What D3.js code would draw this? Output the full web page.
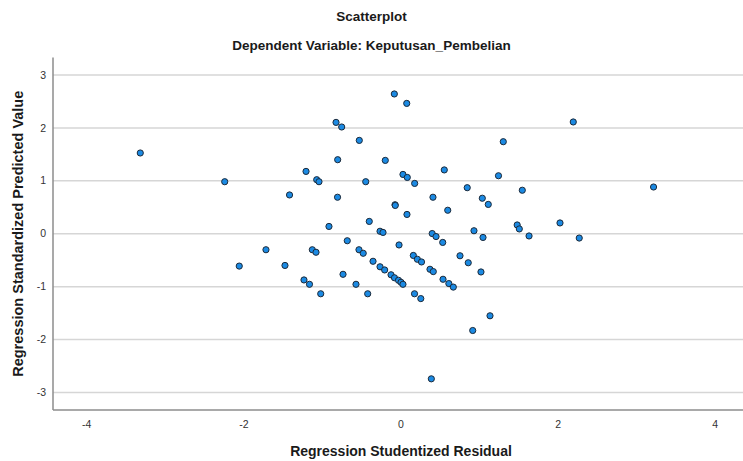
<!DOCTYPE html>
<html>
<head>
<meta charset="utf-8">
<script src="https://cdn.jsdelivr.net/npm/d3@7"></script>
<style>
  body { margin: 0; background: #fff; }
  svg { display: block; font-family: 'Liberation Sans', Arial, sans-serif; }
  .grid line { stroke: #d6d6d6; stroke-width: 1.5; }
  .axis-line { stroke: #8c8c8c; stroke-width: 1.5; }
  .tick-label { font-size: 10.5px; fill: #333; }
  .title { font-size: 13.5px; font-weight: bold; fill: #1a1a1a; }
  .axis-title { font-size: 14px; font-weight: bold; fill: #1a1a1a; }
  .dot { fill: #1b8ae3; stroke: #1c2a3a; stroke-width: 1; }
</style>
</head>
<body>
<svg id="chart"></svg>
<script>
// Regression Studentized Residual (x) vs Regression Standardized Predicted Value (y)
const residual = [
  -3.319, -2.244, -2.059, -1.719, -1.477, -1.419, -1.235, -1.209, -1.165, -1.129,
  -1.082, -1.073, -1.044, -1.022, -0.917, -0.827, -0.808, -0.806, -0.755, -0.738,
  -0.684, -0.573, -0.531, -0.535, -0.481, -0.449, -0.424, -0.404, -0.356, -0.267,
  -0.229, -0.267, -0.200, -0.208, -0.127, -0.083, -0.032, 0.000, 0.025, -0.085,
  -0.076, -0.073, -0.025, 0.025, 0.073, 0.080, 0.076, 0.157, 0.174, 0.172,
  0.208, 0.261, 0.252, 0.386, 0.407, 0.369, 0.397, 0.411, 0.446, 0.531,
  0.535, 0.551, 0.595, 0.609, 0.666, 0.751, 0.843, 0.856, 0.913, 0.929,
  1.018, 1.035, 1.044, 1.111, 1.133, 1.241, 1.302, 1.479, 1.506, 1.544,
  1.630, 2.024, 2.193, 2.269, 3.215
];
const predicted = [
  1.526, 0.983, -0.611, -0.302, -0.599, 0.733, -0.873, 1.178, -0.955, -0.302,
  -0.350, 1.021, 0.983, -1.134, 0.138, 2.104, 0.690, 1.399, 2.017, -0.766,
  -0.132, -0.955, 1.764, -0.302, -0.369, 0.983, -1.134, 0.233, -0.520, 0.047,
  0.025, -0.624, 1.386, -0.684, -0.775, -0.832, -0.879, -0.917, -0.955, 2.641,
  0.548, 0.535, -0.212, 1.121, 2.463, 1.064, 0.365, -0.410, 0.951, -1.134,
  -0.482, -0.533, -1.225, -2.741, 0.690, -0.671, 0.004, -0.715, -0.053, -0.164,
  -0.860, 1.206, 0.444, -0.941, -1.008, -0.416, 0.870, -0.548, -1.828, 0.057,
  -0.722, 0.671, -0.070, 0.554, -1.550, 1.096, 1.739, 0.166, 0.091, 0.822,
  -0.042, 0.204, 2.112, -0.081, 0.883
];
const xTicks = [-4, -2, 0, 2, 4];
const yTicks = [-3, -2, -1, 0, 1, 2, 3];
const xDomain = [-4.43, 4.43];
const yDomain = [-3.33, 3.33];

const width = 743;
const height = 461;
const margin = {top: 57.5, right: -6, bottom: 51, left: 53};

const svg = d3.select('#chart')
  .attr('width', width)
  .attr('height', height);

const x = d3.scaleLinear()
  .domain(xDomain)
  .range([margin.left, width - margin.right]);

const y = d3.scaleLinear()
  .domain(yDomain)
  .range([height - margin.bottom, margin.top]);

// horizontal gridlines
svg.append('g')
  .attr('class', 'grid')
  .selectAll('line')
  .data(yTicks)
  .join('line')
  .attr('x1', x(xDomain[0]))
  .attr('x2', x(xDomain[1]))
  .attr('y1', d => y(d))
  .attr('y2', d => y(d));

// axis lines
svg.append('line')
  .attr('class', 'axis-line')
  .attr('x1', x(xDomain[0]))
  .attr('x2', x(xDomain[0]))
  .attr('y1', y(yDomain[1]))
  .attr('y2', y(yDomain[0]));

svg.append('line')
  .attr('class', 'axis-line')
  .attr('x1', x(xDomain[0]))
  .attr('x2', x(xDomain[1]))
  .attr('y1', y(yDomain[0]))
  .attr('y2', y(yDomain[0]));

// tick labels
svg.append('g')
  .selectAll('text')
  .data(yTicks)
  .join('text')
  .attr('class', 'tick-label')
  .attr('x', x(xDomain[0]) - 7)
  .attr('y', d => y(d))
  .attr('dy', '0.35em')
  .attr('text-anchor', 'end')
  .text(d => d);

svg.append('g')
  .selectAll('text')
  .data(xTicks)
  .join('text')
  .attr('class', 'tick-label')
  .attr('x', d => x(d))
  .attr('y', y(yDomain[0]) + 14)
  .attr('dy', '0.35em')
  .attr('text-anchor', 'middle')
  .text(d => d);

// points
svg.append('g')
  .selectAll('circle')
  .data(residual.map((r, i) => [r, predicted[i]]))
  .join('circle')
  .attr('class', 'dot')
  .attr('cx', d => x(d[0]))
  .attr('cy', d => y(d[1]))
  .attr('r', 3.1);

// titles
svg.append('text')
  .attr('class', 'title')
  .attr('x', width / 2)
  .attr('y', 21)
  .attr('text-anchor', 'middle')
  .text('Scatterplot');

svg.append('text')
  .attr('class', 'title')
  .attr('x', width / 2)
  .attr('y', 50)
  .attr('text-anchor', 'middle')
  .text('Dependent Variable: Keputusan_Pembelian');

svg.append('text')
  .attr('class', 'axis-title')
  .attr('x', x(0))
  .attr('y', 456)
  .attr('text-anchor', 'middle')
  .text('Regression Studentized Residual');

svg.append('text')
  .attr('class', 'axis-title')
  .attr('transform', 'translate(23,' + y(0) + ') rotate(-90)')
  .attr('text-anchor', 'middle')
  .style('font-size', '14.5px')
  .text('Regression Standardized Predicted Value');
</script>
</body>
</html>
